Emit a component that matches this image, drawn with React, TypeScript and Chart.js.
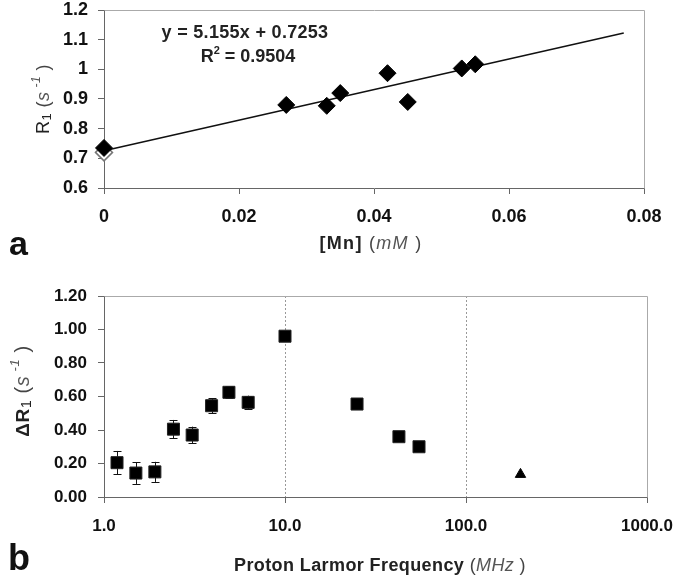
import React, { useEffect, useRef } from "react";
import { Chart, registerables } from "chart.js";

Chart.register(...registerables);

// ---------- Panel a data ----------
const mnConcentration = [0, 0.027, 0.033, 0.035, 0.042, 0.045, 0.053, 0.055];
const r1Values = [0.735, 0.88, 0.877, 0.92, 0.987, 0.89, 1.003, 1.017];
const mnHollowX = [0];
const r1HollowY = [0.72];
const fitLineX = [0, 0.077];
const fitLineY = [0.7253, 1.1222];
const topXTicks = [0, 0.02, 0.04, 0.06, 0.08];
const topXTickLabels = ["0", "0.02", "0.04", "0.06", "0.08"];
const topYTicks = [0.6, 0.7, 0.8, 0.9, 1.0, 1.1, 1.2];
const topYTickLabels = ["0.6", "0.7", "0.8", "0.9", "1", "1.1", "1.2"];

// ---------- Panel b data ----------
const frequencyMHz = [1.18, 1.5, 1.91, 2.42, 3.07, 3.93, 4.9, 6.26, 10, 25, 42.6, 55];
const deltaR1 = [0.205, 0.143, 0.15, 0.405, 0.37, 0.545, 0.625, 0.565, 0.96, 0.555, 0.36, 0.3];
const deltaR1Err = [0.07, 0.065, 0.06, 0.055, 0.05, 0.045, 0.035, 0.04, 0.02, 0.01, 0.01, 0.01];
const triangleFreq = [200];
const triangleDeltaR1 = [0.135];
const botXTicks = [1, 10, 100, 1000];
const botXTickLabels = ["1.0", "10.0", "100.0", "1000.0"];
const botYTicks = [0, 0.2, 0.4, 0.6, 0.8, 1.0, 1.2];
const botYTickLabels = ["0.00", "0.20", "0.40", "0.60", "0.80", "1.00", "1.20"];

const FAM = '"Liberation Sans", Arial, Helvetica, sans-serif';
const AXIS = "#666";
const BOX = "#aaa";

type Run = { t: string; font: string; color?: string; dy?: number };

function drawRuns(
  ctx: CanvasRenderingContext2D,
  runs: Run[],
  cx: number,
  baseline: number,
  rotate = false,
  spacing = 0
) {
  ctx.save();
  ctx.translate(cx, baseline);
  if (rotate) ctx.rotate(-Math.PI / 2);
  (ctx as any).letterSpacing = spacing + "px";
  let total = 0;
  const widths = runs.map((r) => {
    ctx.font = r.font;
    const w = ctx.measureText(r.t).width;
    total += w;
    return w;
  });
  let x = -total / 2;
  ctx.textBaseline = "alphabetic";
  ctx.textAlign = "left";
  runs.forEach((r, i) => {
    ctx.font = r.font;
    ctx.fillStyle = r.color || "#111";
    ctx.fillText(r.t, x, r.dy || 0);
    x += widths[i];
  });
  ctx.restore();
}

const boxPlugin = {
  id: "boxTopRight",
  beforeDatasetsDraw(chart: any) {
    const { ctx, chartArea: a } = chart;
    ctx.save();
    ctx.strokeStyle = BOX;
    ctx.lineWidth = 1;
    ctx.beginPath();
    ctx.moveTo(Math.round(a.left) + 0.5, Math.round(a.top) + 0.5);
    ctx.lineTo(Math.round(a.right) + 0.5, Math.round(a.top) + 0.5);
    ctx.lineTo(Math.round(a.right) + 0.5, Math.round(a.bottom) + 0.5);
    ctx.stroke();
    ctx.restore();
  },
};

function tickFont(size: number) {
  return { family: FAM, size, weight: "bold" as const };
}

function axisCommon() {
  return {
    border: { display: true, color: AXIS, width: 1 },
    grid: { display: true, drawOnChartArea: false, drawTicks: true, tickLength: 6, tickColor: AXIS },
  };
}

export default function App() {
  const topRef = useRef<HTMLCanvasElement>(null);
  const botRef = useRef<HTMLCanvasElement>(null);

  useEffect(() => {
    const topText = {
      id: "topText",
      afterDraw(chart: any) {
        const ctx = chart.ctx as CanvasRenderingContext2D;
        drawRuns(ctx, [{ t: "y = 5.155x + 0.7253", font: `bold 18px ${FAM}`, color: "#222" }], 245, 38, false, 0.3);
        drawRuns(
          ctx,
          [
            { t: "R", font: `bold 18px ${FAM}`, color: "#222" },
            { t: "2", font: `bold 11px ${FAM}`, color: "#222", dy: -8 },
            { t: " = 0.9504", font: `bold 18px ${FAM}`, color: "#222" },
          ],
          248,
          62
        );
        drawRuns(
          ctx,
          [
            { t: "[Mn]", font: `bold 18px ${FAM}`, color: "#222" },
            { t: " (", font: `18px ${FAM}`, color: "#444" },
            { t: "mM", font: `italic 18px ${FAM}`, color: "#555" },
            { t: " )", font: `18px ${FAM}`, color: "#444" },
          ],
          371,
          249,
          false,
          1.3
        );
        drawRuns(
          ctx,
          [
            { t: "R", font: `18px ${FAM}`, color: "#222" },
            { t: "1", font: `13px ${FAM}`, color: "#222", dy: 2 },
            { t: " (", font: `18px ${FAM}`, color: "#444" },
            { t: "s", font: `italic 18px ${FAM}`, color: "#555" },
            { t: " -1", font: `italic 12px ${FAM}`, color: "#555", dy: -9 },
            { t: " )", font: `18px ${FAM}`, color: "#444" },
          ],
          49,
          99,
          true,
          0.5
        );
        ctx.save();
        ctx.font = `bold 34px ${FAM}`;
        ctx.fillStyle = "#111";
        ctx.textAlign = "left";
        ctx.textBaseline = "alphabetic";
        ctx.fillText("a", 9, 255);
        ctx.restore();
      },
    };

    const topChart = new Chart(topRef.current!, {
      type: "scatter",
      data: {
        datasets: [
          {
            data: mnConcentration.map((x, i) => ({ x, y: r1Values[i] })),
            pointStyle: "rectRot",
            pointRadius: 8.5,
            backgroundColor: "#000",
            borderColor: "#000",
            borderWidth: 1,
            clip: false,
            order: 1,
          },
          {
            data: fitLineX.map((x, i) => ({ x, y: fitLineY[i] })),
            showLine: true,
            borderColor: "#111",
            borderWidth: 1.5,
            pointRadius: 0,
            clip: false,
            order: 2,
          },
          {
            data: mnHollowX.map((x, i) => ({ x, y: r1HollowY[i] })),
            pointStyle: "rectRot",
            pointRadius: 8.5,
            backgroundColor: "#fff",
            borderColor: "#777",
            borderWidth: 1.5,
            clip: false,
            order: 3,
          },
        ] as any,
      },
      options: {
        animation: false,
        responsive: false,
        devicePixelRatio: 1,
        events: [],
        layout: { padding: { left: 0, right: 35, top: 8, bottom: 0 } },
        plugins: { legend: { display: false }, tooltip: { enabled: false } },
        scales: {
          x: {
            type: "linear",
            min: 0,
            max: 0.08,
            ...axisCommon(),
            afterBuildTicks: (s: any) => {
              s.ticks = topXTicks.map((v) => ({ value: v }));
            },
            afterFit: (s: any) => {
              s.height = 82;
              s.paddingLeft = 0;
              s.paddingRight = 0;
            },
            ticks: {
              font: tickFont(18),
              color: "#111",
              padding: 12,
              maxRotation: 0,
              autoSkip: false,
              callback: (_v: any, i: number) => topXTickLabels[i],
            },
          },
          y: {
            type: "linear",
            min: 0.6,
            max: 1.2,
            ...axisCommon(),
            afterBuildTicks: (s: any) => {
              s.ticks = topYTicks.map((v) => ({ value: v }));
            },
            afterFit: (s: any) => {
              s.width = 104;
              s.paddingTop = 0;
              s.paddingBottom = 0;
            },
            ticks: {
              font: tickFont(18),
              color: "#111",
              padding: 10,
              autoSkip: false,
              callback: (_v: any, i: number) => topYTickLabels[i],
            },
          },
        },
      } as any,
      plugins: [boxPlugin, topText],
    });

    const errorBars = {
      id: "errorBars",
      beforeDatasetsDraw(chart: any) {
        const ctx = chart.ctx as CanvasRenderingContext2D;
        const xs = chart.scales.x;
        const ys = chart.scales.y;
        ctx.save();
        ctx.strokeStyle = "#111";
        ctx.lineWidth = 1;
        frequencyMHz.forEach((f, i) => {
          const px = Math.round(xs.getPixelForValue(f)) + 0.5;
          const yTop = ys.getPixelForValue(deltaR1[i] + deltaR1Err[i]);
          const yBot = ys.getPixelForValue(deltaR1[i] - deltaR1Err[i]);
          ctx.beginPath();
          ctx.moveTo(px, yTop);
          ctx.lineTo(px, yBot);
          ctx.moveTo(px - 4, Math.round(yTop) + 0.5);
          ctx.lineTo(px + 4, Math.round(yTop) + 0.5);
          ctx.moveTo(px - 4, Math.round(yBot) + 0.5);
          ctx.lineTo(px + 4, Math.round(yBot) + 0.5);
          ctx.stroke();
        });
        ctx.restore();
      },
    };

    const botText = {
      id: "botText",
      afterDraw(chart: any) {
        const ctx = chart.ctx as CanvasRenderingContext2D;
        drawRuns(
          ctx,
          [
            { t: "Proton Larmor Frequency", font: `bold 18px ${FAM}`, color: "#222" },
            { t: " (", font: `18px ${FAM}`, color: "#444" },
            { t: "MHz", font: `italic 18px ${FAM}`, color: "#555" },
            { t: " )", font: `18px ${FAM}`, color: "#444" },
          ],
          380,
          301,
          false,
          0.4
        );
        drawRuns(
          ctx,
          [
            { t: "ΔR", font: `bold 19px ${FAM}`, color: "#222" },
            { t: "1", font: `14px ${FAM}`, color: "#222", dy: 2 },
            { t: " (", font: `20px ${FAM}`, color: "#444" },
            { t: "s", font: `italic 20px ${FAM}`, color: "#555" },
            { t: " -1", font: `italic 13px ${FAM}`, color: "#555", dy: -10 },
            { t: " )", font: `20px ${FAM}`, color: "#444" },
          ],
          29,
          121,
          true,
          0.6
        );
        ctx.save();
        ctx.font = `bold 36px ${FAM}`;
        ctx.fillStyle = "#111";
        ctx.textAlign = "left";
        ctx.textBaseline = "alphabetic";
        ctx.fillText("b", 8, 300);
        ctx.restore();
      },
    };

    const botChart = new Chart(botRef.current!, {
      type: "scatter",
      data: {
        datasets: [
          {
            data: frequencyMHz.map((x, i) => ({ x, y: deltaR1[i] })),
            pointStyle: "rect",
            pointRadius: 8.5,
            backgroundColor: "#000",
            borderColor: "#222",
            borderWidth: 1,
            clip: false,
          },
          {
            data: triangleFreq.map((x, i) => ({ x, y: triangleDeltaR1[i] })),
            pointStyle: "triangle",
            pointRadius: 6,
            backgroundColor: "#000",
            borderColor: "#000",
            borderWidth: 1,
            clip: false,
          },
        ] as any,
      },
      options: {
        animation: false,
        responsive: false,
        devicePixelRatio: 1,
        events: [],
        layout: { padding: { left: 0, right: 32, top: 26, bottom: 0 } },
        plugins: { legend: { display: false }, tooltip: { enabled: false } },
        scales: {
          x: {
            type: "logarithmic",
            min: 1,
            max: 1000,
            border: { display: true, color: AXIS, width: 1, dash: [2, 2] },
            grid: {
              display: true,
              drawOnChartArea: true,
              drawTicks: true,
              tickLength: 6,
              tickColor: AXIS,
              color: (c: any) =>
                c.tick && (c.tick.value === 10 || c.tick.value === 100) ? "#999" : "rgba(0,0,0,0)",
            },
            afterBuildTicks: (s: any) => {
              s.ticks = botXTicks.map((v) => ({ value: v }));
            },
            afterFit: (s: any) => {
              s.height = 86;
              s.paddingLeft = 0;
              s.paddingRight = 0;
            },
            ticks: {
              font: tickFont(17),
              color: "#111",
              padding: 13,
              maxRotation: 0,
              autoSkip: false,
              callback: (_v: any, i: number) => botXTickLabels[i],
            },
          },
          y: {
            type: "linear",
            min: 0,
            max: 1.2,
            ...axisCommon(),
            afterBuildTicks: (s: any) => {
              s.ticks = botYTicks.map((v) => ({ value: v }));
            },
            afterFit: (s: any) => {
              s.width = 104;
              s.paddingTop = 0;
              s.paddingBottom = 0;
            },
            ticks: {
              font: tickFont(17),
              color: "#111",
              padding: 11,
              autoSkip: false,
              callback: (_v: any, i: number) => botYTickLabels[i],
            },
          },
        },
      } as any,
      plugins: [boxPlugin, errorBars, botText],
    });

    return () => {
      topChart.destroy();
      botChart.destroy();
    };
  }, []);

  return (
    <div style={{ position: "absolute", left: 0, top: 0, width: 679, height: 583, background: "#fff" }}>
      <canvas ref={topRef} width={679} height={270} style={{ display: "block", width: 679, height: 270 }} />
      <canvas ref={botRef} width={679} height={313} style={{ display: "block", width: 679, height: 313 }} />
    </div>
  );
}
